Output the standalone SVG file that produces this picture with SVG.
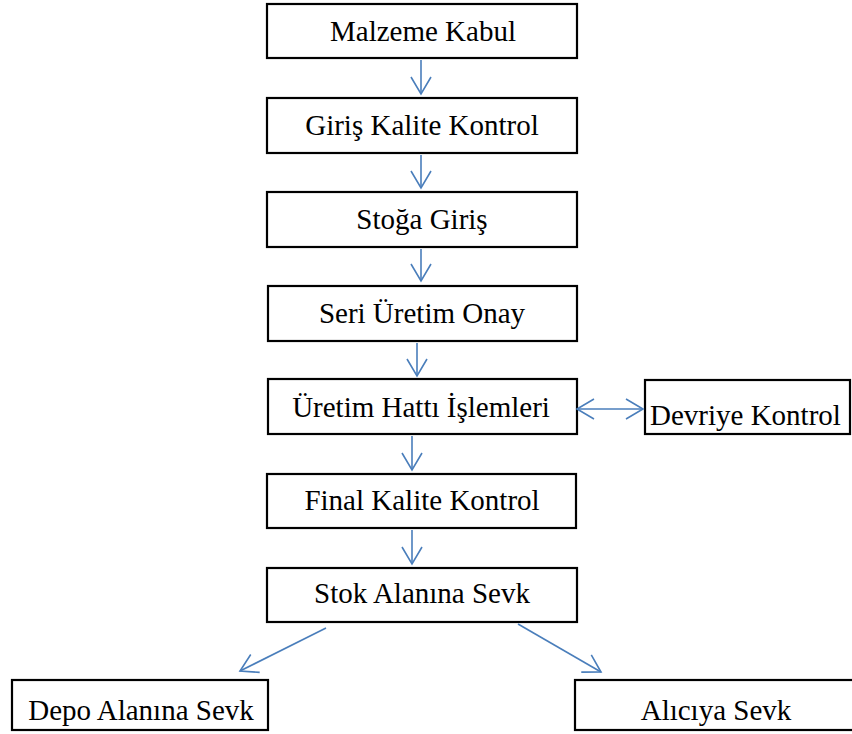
<svg xmlns="http://www.w3.org/2000/svg" width="852" height="734" viewBox="0 0 852 734">
<defs>
<style>
.box{fill:#fff;stroke:#000;stroke-width:2.2}
.t{font-family:"Liberation Serif","Times New Roman",serif;font-size:29px;fill:#000;text-anchor:middle}
.c{fill:none;stroke:#4A7EBB;stroke-width:1.6}
</style>
<marker id="ah" viewBox="-19 -11 21 22" refX="0" refY="0" markerWidth="21" markerHeight="22" markerUnits="userSpaceOnUse" orient="auto-start-reverse">
<path d="M-17,-10 L0,0 L-17,10" fill="none" stroke="#4A7EBB" stroke-width="1.6"/>
</marker>
</defs>
<rect width="852" height="734" fill="#fff"/>
<g id="n1"><rect class="box" x="267" y="4" width="310" height="54"/><text class="t" x="423" y="41">Malzeme Kabul</text></g>
<g id="n2"><rect class="box" x="267" y="98" width="310" height="55"/><text class="t" x="422" y="135">Giriş Kalite Kontrol</text></g>
<g id="n3"><rect class="box" x="267" y="192" width="310" height="55"/><text class="t" x="422" y="229">Stoğa Giriş</text></g>
<g id="n4"><rect class="box" x="268" y="286" width="309" height="55"/><text class="t" x="422" y="323">Seri Üretim Onay</text></g>
<g id="n5"><rect class="box" x="268" y="379" width="309" height="55"/><text class="t" x="421" y="417">Üretim Hattı İşlemleri</text></g>
<g id="n6"><rect class="box" x="267" y="474" width="309" height="54"/><text class="t" x="422" y="510">Final Kalite Kontrol</text></g>
<g id="n7"><rect class="box" x="267" y="568" width="310" height="54"/><text class="t" x="422" y="603">Stok Alanına Sevk</text></g>
<g id="n8"><rect class="box" x="645" y="380" width="205" height="54"/><text class="t" x="650" y="425" style="text-anchor:start">Devriye Kontrol</text></g>
<g id="n9"><rect class="box" x="12" y="680" width="256" height="50"/><text class="t" x="141" y="720">Depo Alanına Sevk</text></g>
<g id="n10"><rect class="box" x="575" y="680" width="290" height="50"/><text class="t" x="716" y="720">Alıcıya Sevk</text></g>
<g id="connectors">
<line class="c" x1="421" y1="60" x2="421" y2="94" marker-end="url(#ah)"/>
<line class="c" x1="421" y1="155" x2="421" y2="188" marker-end="url(#ah)"/>
<line class="c" x1="421" y1="249" x2="421" y2="281" marker-end="url(#ah)"/>
<line class="c" x1="417" y1="343" x2="417" y2="376" marker-end="url(#ah)"/>
<line class="c" x1="412" y1="436" x2="412" y2="470" marker-end="url(#ah)"/>
<line class="c" x1="412" y1="530" x2="412" y2="564" marker-end="url(#ah)"/>
<line class="c" x1="577" y1="409" x2="643" y2="409" marker-start="url(#ah)" marker-end="url(#ah)"/>
<line class="c" x1="326" y1="628" x2="240" y2="671" marker-end="url(#ah)"/>
<line class="c" x1="518" y1="624" x2="601" y2="672" marker-end="url(#ah)"/>
</g>
</svg>
